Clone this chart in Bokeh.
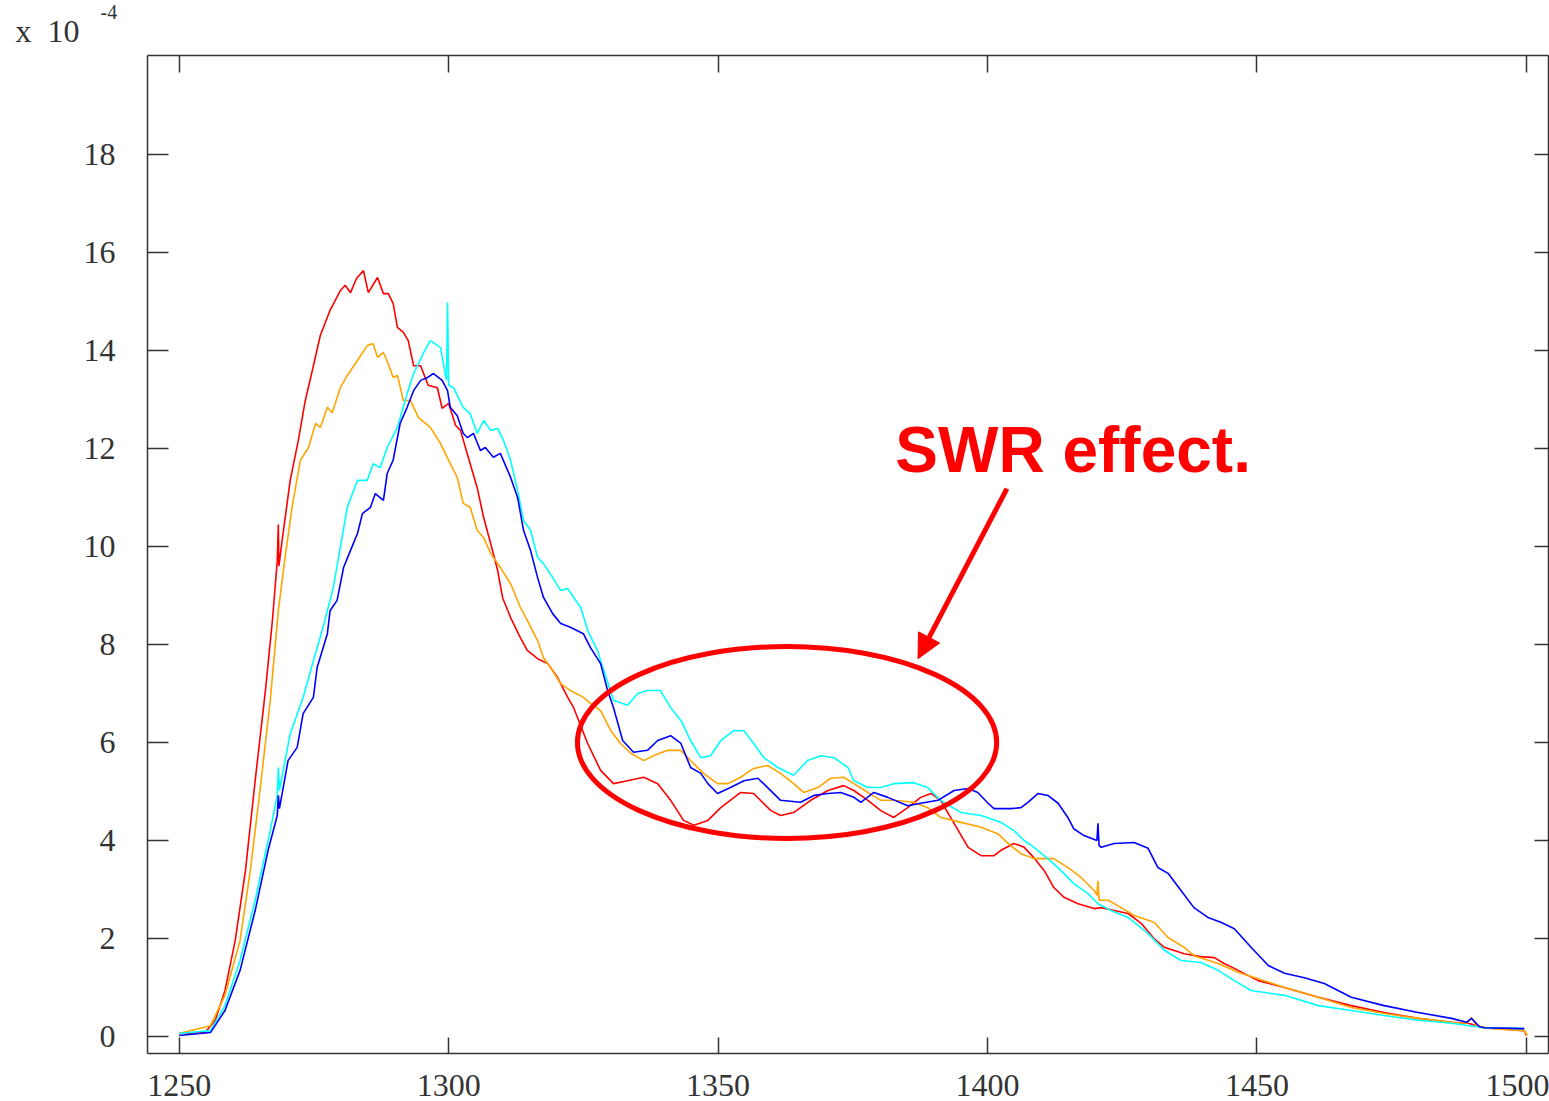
from bokeh.plotting import figure
from bokeh.models import LinearAxis, Range1d, Label, Arrow, NormalHead, FixedTicker, Title
from bokeh.embed import file_html
from bokeh.resources import INLINE

# ---------------- data (wavelength nm, power x1e-4) ----------------
red_x = [1250.0, 1254.8, 1256.7, 1258.5, 1260.4, 1262.3, 1264.1, 1266.0, 1267.3, 1268.2, 1268.4, 1268.5,
         1269.1, 1270.6, 1272.1, 1273.4, 1274.7, 1276.2, 1278.0, 1279.9, 1280.8, 1281.8, 1282.9, 1284.2,
         1285.1, 1286.8, 1287.9, 1288.8, 1289.7, 1290.5, 1291.6, 1292.5, 1293.5, 1294.8, 1296.2, 1297.9,
         1298.8, 1300.0, 1301.3, 1302.2, 1304.0, 1305.3, 1306.5, 1307.8, 1309.1, 1310.0, 1311.5, 1313.3,
         1314.6, 1316.5, 1318.4, 1320.2, 1322.1, 1323.2, 1325.8, 1328.2, 1330.6, 1333.2, 1336.2, 1338.8,
         1341.2, 1343.6, 1345.5, 1348.1, 1350.5, 1354.2, 1356.6, 1359.8, 1361.6, 1364.0, 1367.2, 1370.4,
         1373.3, 1375.2, 1377.8, 1380.2, 1382.6, 1385.2, 1387.6, 1389.5, 1391.3, 1393.8, 1396.4, 1398.8,
         1401.2, 1402.5, 1404.9, 1406.8, 1408.6, 1410.5, 1412.3, 1414.2, 1416.8, 1419.8, 1421.1, 1423.5,
         1426.1, 1428.5, 1430.9, 1432.8, 1436.5, 1439.6, 1442.1, 1443.9, 1445.8, 1450.2, 1455.1, 1461.4,
         1467.5, 1473.6, 1479.9, 1486.1, 1489.2, 1492.2, 1499.6, 1500.0]
red_y = [0.06, 0.08, 0.33, 0.94, 1.96, 3.39, 5.22, 7.06, 8.49, 9.71, 10.45, 9.60,
         10.12, 11.35, 12.16, 12.98, 13.59, 14.31, 14.82, 15.22, 15.33, 15.18, 15.47, 15.63,
         15.18, 15.49, 15.16, 15.16, 14.96, 14.47, 14.37, 14.20, 13.69, 13.69, 13.29, 13.24,
         12.82, 12.92, 12.47, 12.37, 11.69, 11.20, 10.59, 10.06, 9.51, 8.96, 8.55, 8.14,
         7.88, 7.71, 7.61, 7.33, 6.92, 6.71, 5.98, 5.43, 5.16, 5.22, 5.29, 5.16,
         4.82, 4.41, 4.31, 4.41, 4.67, 4.98, 4.96, 4.61, 4.51, 4.57, 4.82, 5.02,
         5.12, 5.02, 4.82, 4.61, 4.47, 4.67, 4.88, 4.96, 4.82, 4.35, 3.86, 3.69,
         3.69, 3.80, 3.94, 3.86, 3.65, 3.39, 3.04, 2.84, 2.71, 2.61, 2.63, 2.57,
         2.51, 2.31, 2.00, 1.82, 1.69, 1.63, 1.61, 1.49, 1.39, 1.14, 1.00, 0.80,
         0.63, 0.49, 0.37, 0.29, 0.27, 0.18, 0.12, 0.02]

orange_x = [1250.0, 1255.8, 1258.5, 1261.3, 1263.2, 1265.0, 1266.9, 1268.4, 1269.7, 1271.0, 1272.5, 1274.0,
            1275.3, 1276.2, 1277.5, 1278.4, 1279.9, 1281.2, 1283.1, 1284.9, 1286.0, 1286.8, 1287.9, 1288.8,
            1289.7, 1290.5, 1291.6, 1292.9, 1294.4, 1296.6, 1298.5, 1300.3, 1301.6, 1302.7, 1304.0, 1305.3,
            1306.5, 1307.8, 1309.6, 1311.5, 1313.3, 1314.6, 1316.5, 1317.6, 1318.9, 1320.8, 1322.6, 1325.0,
            1326.3, 1328.2, 1330.1, 1331.9, 1333.8, 1336.2, 1338.0, 1340.6, 1343.1, 1344.9, 1347.3, 1349.9,
            1351.8, 1354.2, 1356.6, 1359.2, 1361.6, 1364.0, 1365.9, 1368.5, 1370.9, 1373.3, 1375.2, 1377.8,
            1380.2, 1382.6, 1386.3, 1388.9, 1391.3, 1395.1, 1398.8, 1401.9, 1403.8, 1406.2, 1408.6, 1412.3,
            1414.9, 1417.4, 1419.8, 1420.3, 1420.5, 1420.7, 1422.4, 1424.8, 1427.2, 1430.9, 1433.5, 1436.5,
            1438.3, 1442.8, 1446.5, 1450.2, 1455.1, 1461.4, 1467.5, 1473.6, 1479.9, 1486.1, 1488.9, 1489.8,
            1490.7, 1493.5, 1499.6, 1500.2]
orange_y = [0.06, 0.22, 0.84, 1.96, 3.39, 5.02, 6.86, 8.69, 9.82, 10.84, 11.76, 12.02,
            12.51, 12.43, 12.84, 12.73, 13.24, 13.49, 13.80, 14.10, 14.14, 13.86, 13.96, 13.73,
            13.45, 13.49, 12.98, 12.98, 12.63, 12.43, 12.10, 11.69, 11.41, 10.88, 10.80, 10.33,
            10.18, 9.86, 9.57, 9.24, 8.76, 8.49, 8.08, 7.73, 7.53, 7.20, 7.06, 6.92,
            6.80, 6.65, 6.24, 5.98, 5.78, 5.63, 5.73, 5.84, 5.84, 5.63, 5.37, 5.16,
            5.16, 5.29, 5.47, 5.53, 5.37, 5.16, 4.98, 5.08, 5.27, 5.29, 5.16, 4.98,
            4.82, 4.82, 4.78, 4.67, 4.47, 4.37, 4.27, 4.14, 3.94, 3.73, 3.63, 3.63,
            3.45, 3.24, 2.98, 2.88, 3.18, 2.78, 2.78, 2.63, 2.47, 2.33, 2.02, 1.82,
            1.65, 1.49, 1.31, 1.18, 1.00, 0.80, 0.59, 0.47, 0.37, 0.29, 0.27, 0.39,
            0.22, 0.16, 0.12, 0.02]

cyan_x = [1250.0, 1255.8, 1258.5, 1261.3, 1264.1, 1266.9, 1268.2, 1268.4, 1268.6, 1270.6, 1273.0, 1274.9,
          1276.7, 1278.6, 1279.9, 1281.2, 1283.1, 1284.9, 1286.0, 1287.3, 1288.6, 1290.5, 1292.3, 1293.5,
          1295.3, 1296.6, 1298.5, 1299.6, 1299.8, 1300.0, 1300.9, 1302.7, 1304.0, 1305.3, 1306.5, 1307.8,
          1309.1, 1310.2, 1311.5, 1312.8, 1313.9, 1315.2, 1316.5, 1317.6, 1319.3, 1320.8, 1322.1, 1323.2,
          1324.5, 1325.8, 1327.6, 1328.8, 1330.6, 1333.2, 1335.1, 1336.9, 1339.3, 1341.2, 1343.1, 1344.9,
          1346.8, 1348.6, 1350.5, 1352.9, 1354.8, 1356.6, 1358.5, 1361.1, 1364.0, 1366.6, 1369.1, 1371.5,
          1374.1, 1375.2, 1377.8, 1380.2, 1382.6, 1386.3, 1388.9, 1391.3, 1395.1, 1398.8, 1402.5, 1404.9,
          1406.8, 1408.6, 1411.2, 1413.6, 1416.0, 1418.6, 1420.5, 1422.9, 1426.1, 1429.8, 1432.8, 1435.9,
          1439.6, 1442.8, 1445.8, 1448.9, 1455.1, 1461.4, 1467.5, 1473.6, 1479.9, 1486.1, 1492.2, 1499.6]
cyan_y = [0.06, 0.12, 0.63, 1.55, 2.78, 4.20, 4.92, 5.49, 5.02, 6.18, 6.92, 7.67,
          8.35, 9.16, 9.98, 10.80, 11.35, 11.35, 11.69, 11.61, 12.02, 12.43, 13.12, 13.53,
          13.94, 14.20, 14.06, 13.39, 14.98, 13.29, 13.24, 12.84, 12.71, 12.31, 12.57, 12.37,
          12.41, 12.16, 11.76, 11.14, 10.53, 10.33, 9.78, 9.65, 9.37, 9.10, 9.14, 8.96,
          8.76, 8.29, 7.88, 7.47, 6.86, 6.76, 7.00, 7.06, 7.06, 6.71, 6.45, 6.04,
          5.69, 5.73, 6.04, 6.24, 6.24, 5.98, 5.69, 5.49, 5.33, 5.63, 5.73, 5.69,
          5.49, 5.22, 5.08, 5.08, 5.16, 5.18, 5.08, 4.82, 4.57, 4.51, 4.37, 4.20,
          4.00, 3.86, 3.63, 3.39, 3.12, 2.92, 2.71, 2.57, 2.43, 2.10, 1.76, 1.55,
          1.51, 1.35, 1.14, 0.94, 0.84, 0.63, 0.53, 0.43, 0.33, 0.27, 0.18, 0.16]

blue_x = [1250.0, 1255.8, 1258.5, 1261.3, 1264.1, 1266.5, 1268.2, 1268.4, 1268.6, 1270.2, 1271.9, 1273.0,
          1274.9, 1275.6, 1277.5, 1278.0, 1279.3, 1280.5, 1281.8, 1283.1, 1284.0, 1285.5, 1286.4, 1287.9,
          1288.6, 1289.7, 1291.0, 1292.3, 1293.5, 1294.8, 1296.1, 1297.2, 1298.8, 1299.8, 1300.3, 1301.6,
          1302.7, 1303.5, 1304.6, 1305.9, 1306.8, 1308.3, 1309.6, 1311.5, 1312.8, 1313.9, 1315.2, 1316.5,
          1317.6, 1319.3, 1320.8, 1322.6, 1325.0, 1326.3, 1328.2, 1329.5, 1330.6, 1332.3, 1334.3, 1336.9,
          1338.8, 1341.2, 1343.1, 1344.9, 1346.8, 1348.1, 1349.9, 1352.3, 1354.8, 1357.4, 1359.2, 1361.6,
          1365.3, 1367.8, 1370.4, 1372.8, 1375.2, 1376.5, 1378.9, 1381.5, 1385.2, 1387.6, 1390.8, 1393.8,
          1396.4, 1398.2, 1400.1, 1401.2, 1404.3, 1406.2, 1407.5, 1409.4, 1411.2, 1413.1, 1414.9, 1416.0,
          1417.9, 1420.3, 1420.5, 1420.7, 1421.1, 1423.5, 1427.2, 1429.8, 1431.6, 1433.5, 1435.9, 1438.3,
          1440.9, 1443.3, 1445.8, 1448.9, 1452.1, 1455.1, 1458.8, 1462.5, 1467.5, 1473.6, 1479.9, 1486.1,
          1488.9, 1489.8, 1491.3, 1492.2, 1499.6]
blue_y = [0.02, 0.08, 0.53, 1.35, 2.57, 3.80, 4.51, 4.92, 4.65, 5.63, 5.90, 6.59,
          6.92, 7.53, 8.22, 8.69, 8.90, 9.57, 9.92, 10.27, 10.67, 10.80, 11.08, 10.94,
          11.49, 11.76, 12.51, 12.84, 13.18, 13.39, 13.45, 13.53, 13.39, 13.18, 12.84, 12.67,
          12.31, 12.22, 12.31, 11.96, 12.02, 11.82, 11.90, 11.41, 11.00, 10.33, 9.92, 9.37,
          8.96, 8.63, 8.43, 8.35, 8.22, 7.94, 7.61, 7.06, 6.71, 6.04, 5.80, 5.84,
          6.04, 6.14, 5.98, 5.49, 5.37, 5.16, 4.96, 5.08, 5.22, 5.27, 5.08, 4.82,
          4.78, 4.92, 4.96, 4.98, 4.88, 4.78, 4.98, 4.88, 4.71, 4.76, 4.82, 5.02,
          5.06, 4.98, 4.76, 4.65, 4.65, 4.67, 4.78, 4.96, 4.92, 4.76, 4.47, 4.24,
          4.10, 4.00, 4.35, 3.90, 3.86, 3.94, 3.96, 3.84, 3.45, 3.33, 2.98, 2.63,
          2.43, 2.33, 2.20, 1.82, 1.45, 1.29, 1.20, 1.08, 0.80, 0.63, 0.49, 0.37,
          0.29, 0.37, 0.20, 0.18, 0.16]

x_ticks = [1250, 1300, 1350, 1400, 1450, 1500]
y_ticks = [0, 2, 4, 6, 8, 10, 12, 14, 16, 18]

# ---------------- figure ----------------
W, H = 1549, 1101
p = figure(width=W, height=H, output_backend="svg", toolbar_location=None,
           x_range=Range1d(1244.12, 1504.1), y_range=Range1d(-0.347, 20.02),
           x_axis_location=None, y_axis_location=None,
           min_border_left=147, min_border_right=1, min_border_top=55, min_border_bottom=48)
p.background_fill_color = "white"
p.border_fill_color = "white"
p.outline_line_color = None
p.xgrid.visible = False
p.ygrid.visible = False

TICK_FONT = "Liberation Serif"
AX_COLOR = "#333333"

def style_axis(ax, show_labels, tick_len):
    ax.axis_line_color = AX_COLOR
    ax.axis_line_width = 1.5
    ax.major_tick_line_color = AX_COLOR
    ax.major_tick_line_width = 1.5
    ax.major_tick_in = tick_len
    ax.major_tick_out = 0
    ax.minor_tick_line_color = None
    ax.major_label_text_font = TICK_FONT
    ax.major_label_text_font_size = "32px"
    ax.major_label_text_color = AX_COLOR
    if not show_labels:
        ax.major_label_text_alpha = 0
        ax.major_label_text_font_size = "1px"
        ax.major_label_standoff = 0

xb = LinearAxis(ticker=FixedTicker(ticks=x_ticks))
style_axis(xb, True, 16)
xb.major_label_standoff = 21
p.add_layout(xb, "below")

xt = LinearAxis(ticker=FixedTicker(ticks=x_ticks))
style_axis(xt, False, 17)
p.add_layout(xt, "above")

yl = LinearAxis(ticker=FixedTicker(ticks=y_ticks))
style_axis(yl, True, 21)
yl.major_label_standoff = 32
p.add_layout(yl, "left")

yr = LinearAxis(ticker=FixedTicker(ticks=y_ticks))
style_axis(yr, False, 14)
p.add_layout(yr, "right")

# exponent label (as titles in the top panel)
p.add_layout(Title(text="x\u00a0\u00a010", align="left", offset=-132, standoff=13,
                   text_font=TICK_FONT, text_font_size="32px", text_font_style="normal",
                   text_color=AX_COLOR), "above")
p.add_layout(Title(text="-4", align="left", offset=-47, standoff=-29,
                   text_font=TICK_FONT, text_font_size="20px", text_font_style="normal",
                   text_color=AX_COLOR), "above")

# ---------------- series ----------------
p.line(red_x, red_y, line_color="#ff0000", line_width=1.6)
p.line(orange_x, orange_y, line_color="#ffa500", line_width=1.6)
p.line(cyan_x, cyan_y, line_color="#00ffff", line_width=1.6)
p.line(blue_x, blue_y, line_color="#0000ff", line_width=1.6)

# ---------------- annotation ----------------
p.ellipse(x=1362.8, y=6.0, width=77.8, height=3.92, fill_color=None,
          line_color="#ff0000", line_width=5)
p.add_layout(Arrow(end=NormalHead(size=24, fill_color="#ff0000", line_color="#ff0000"),
                   x_start=1403.6, y_start=11.18, x_end=1387.1, y_end=7.71,
                   line_color="#ff0000", line_width=5))
p.add_layout(Label(x=1382.9, y=11.96, text="SWR effect.", text_color="#ff0000",
                   text_font="Liberation Sans", text_font_style="bold",
                   text_font_size="64px", text_baseline="alphabetic"))

open("out.html", "w").write(file_html(p, INLINE))
